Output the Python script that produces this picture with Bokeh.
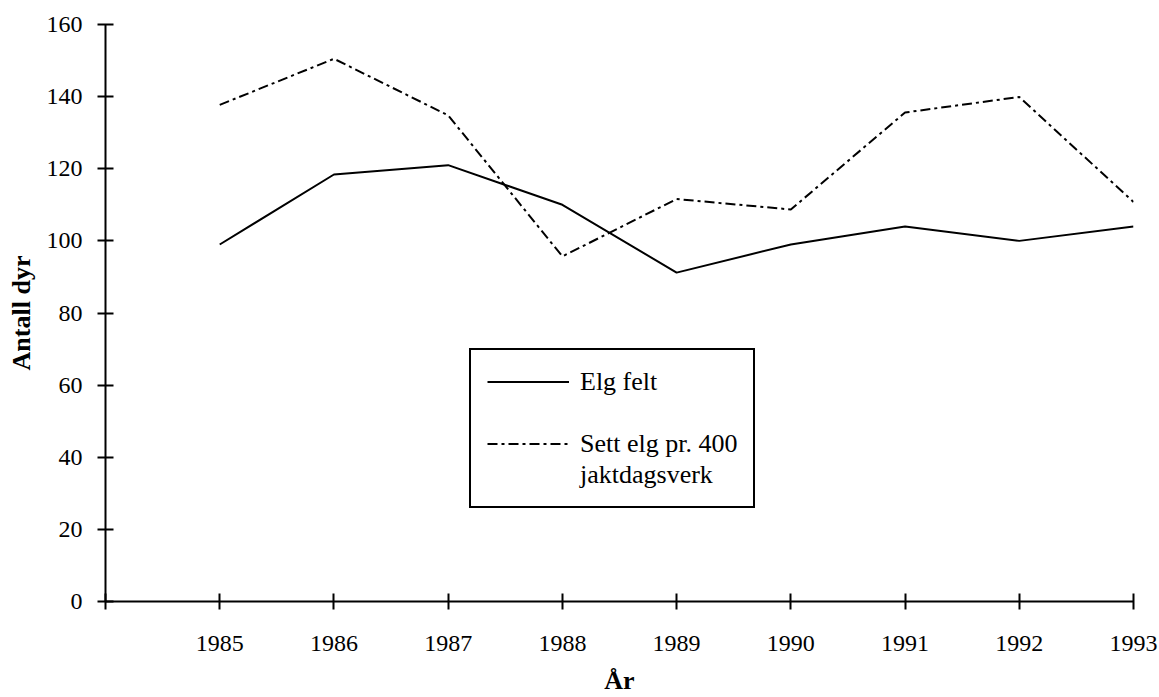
from bokeh.plotting import figure
from bokeh.models import Legend, LegendItem, FixedTicker, Range1d, ColumnDataSource
from bokeh.embed import file_html
from bokeh.resources import INLINE

years = [1985, 1986, 1987, 1988, 1989, 1990, 1991, 1992, 1993]
elg_felt = [99, 118.4, 121, 110, 91.2, 99, 104, 100, 104]
sett_elg = [137.7, 150.5, 134.8, 95.7, 111.6, 108.7, 135.6, 139.9, 110.8]
x_ticks = [1984, 1985, 1986, 1987, 1988, 1989, 1990, 1991, 1992, 1993]
y_ticks = [0, 20, 40, 60, 80, 100, 120, 140, 160]
label_felt = "Elg felt"
label_sett = ["Sett elg pr. 400", "jaktdagsverk"]
x_title = "År"
y_title = "Antall dyr"

FONT = "Liberation Serif"
FS = "24px"
FS_TITLE = "26px"
FS_LEG = "26px"

src = ColumnDataSource(dict(year=years, felt=elg_felt, sett=sett_elg))

p = figure(width=1159, height=697, output_backend="svg", toolbar_location=None,
           x_range=Range1d(1984, 1993), y_range=Range1d(0, 160),
           min_border_left=105, min_border_right=26, min_border_top=24, min_border_bottom=96)
p.outline_line_color = None
p.background_fill_color = "white"
p.border_fill_color = "white"
p.xgrid.visible = False
p.ygrid.visible = False

r1 = p.line("year", "felt", source=src, line_color="black", line_width=2)
r2 = p.line("year", "sett", source=src, line_color="black", line_width=2, line_dash="10 4 3 4")
# empty, invisible renderer used only for the legend's text-only rows
r_blank = p.line(x=[], y=[], line_alpha=0)

for ax in (p.xaxis[0], p.yaxis[0]):
    ax.axis_line_color = "black"
    ax.axis_line_width = 2
    ax.major_tick_line_color = "black"
    ax.major_tick_line_width = 2
    ax.major_tick_in = 8
    ax.major_tick_out = 8
    ax.minor_tick_line_color = None
    ax.major_label_text_font = FONT
    ax.major_label_text_font_size = FS
    ax.major_label_text_color = "black"
    ax.axis_label_text_font = FONT
    ax.axis_label_text_font_size = FS_TITLE
    ax.axis_label_text_font_style = "bold"
    ax.axis_label_text_color = "black"

p.xaxis.ticker = FixedTicker(ticks=x_ticks)
p.xaxis.major_label_overrides = {1984: ""}
p.yaxis.ticker = FixedTicker(ticks=y_ticks)
p.xaxis.axis_label = x_title
p.yaxis.axis_label = y_title
p.xaxis.major_label_standoff = 26
p.xaxis.axis_label_standoff = 12
p.yaxis.major_label_standoff = 15
p.yaxis.axis_label_standoff = 8

legend = Legend(items=[LegendItem(label=label_felt, renderers=[r1]),
                       LegendItem(label=" ", renderers=[r_blank]),
                       LegendItem(label=label_sett[0], renderers=[r2]),
                       LegendItem(label=label_sett[1], renderers=[r_blank])],
                location=(364, 93))
legend.border_line_color = "black"
legend.border_line_width = 2
legend.border_line_alpha = 1
legend.background_fill_color = "white"
legend.background_fill_alpha = 1
legend.padding = 16
legend.margin = 0
legend.spacing = 0
legend.glyph_width = 82
legend.glyph_height = 31
legend.label_height = 31
legend.label_standoff = 11
legend.label_text_font = FONT
legend.label_text_font_size = FS_LEG
legend.label_text_color = "black"
p.add_layout(legend, "center")

open("out.html", "w").write(file_html(p, INLINE))
